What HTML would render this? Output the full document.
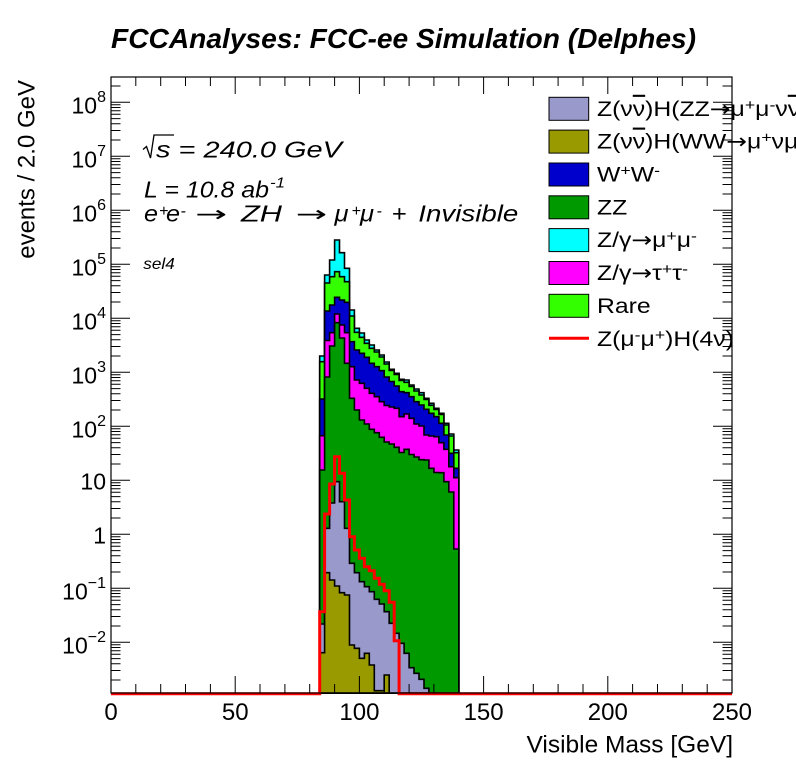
<!DOCTYPE html>
<html><head><meta charset="utf-8">
<style>
html,body{margin:0;padding:0;background:#fff;}
svg{display:block;}
text{font-family:"Liberation Sans","DejaVu Sans",sans-serif;fill:#000;}
.ar{font-family:"DejaVu Sans",sans-serif;font-style:normal;}
</style></head>
<body>
<svg width="796" height="772" viewBox="0 0 796 772" xmlns="http://www.w3.org/2000/svg">
<rect x="0" y="0" width="796" height="772" fill="#fff"/>

<!-- stacked histograms -->
<g stroke="#000" stroke-width="1.6" stroke-linejoin="miter">
<path fill="#00ffff" d="M319.7,693V356H324.6V275H329.6V260H334.6V240H339.5V252.7H344.5V268.3H349.5V310H354.4V328.3H359.4V333H364.4V340H369.3V345H374.3V350H379.3V355H384.2V362H389.2V369.3H394.2V373.3H399.1V379.3H404.1V380H409.1V385H414V389H419V392.7H424V398.3H428.9V403.3H433.9V408.3H438.9V413.3H443.9V423.3H448.8V434H453.8V450H458.8V693Z"/>
<path fill="#33ff00" d="M319.7,693V361.7H324.6V283H329.6V276.7H334.6V271.7H339.5V276.7H344.5V281.7H349.5V316H354.4V332.3H359.4V337.3H364.4V343.3H369.3V348.3H374.3V352H379.3V357H384.2V364H389.2V370.5H394.2V374.5H399.1V380.5H404.1V382.3H409.1V386.5H414V391H419V395H424V399.5H428.9V405.3H433.9V409.5H438.9V414.5H443.9V425H448.8V436H453.8V452.7H458.8V693Z"/>
<path fill="#0000cc" d="M319.7,693V399H324.6V311H329.6V305H334.6V297.3H339.5V300H344.5V302.3H349.5V341.7H354.4V350H359.4V353.3H364.4V357.3H369.3V363.3H374.3V366.7H379.3V370.7H384.2V377H389.2V381.5H394.2V386H399.1V391.7H404.1V392.7H409.1V396.7H414V401.7H419V405H424V409.3H428.9V413.3H433.9V416.7H438.9V423.3H443.9V435H448.8V453.3H453.8V468.3H458.8V693Z"/>
<path fill="#ff00ff" d="M319.7,693V435.7H324.6V340.5H329.6V332.7H334.6V314H339.5V325H344.5V332.7H349.5V366.7H354.4V380H359.4V383.3H364.4V388.3H369.3V393.3H374.3V396.7H379.3V401.7H384.2V405.5H389.2V407H394.2V408.3H399.1V416.7H404.1V414H409.1V418.3H414V424H419V426H424V435H428.9V436H433.9V436.7H438.9V442.7H443.9V449.3H448.8V466.7H453.8V477.7H458.8V693Z"/>
<path fill="#009900" d="M319.7,693V470H324.6V377H329.6V346H334.6V322.7H339.5V338H344.5V363.3H349.5V398.3H354.4V410H359.4V420H364.4V424H369.3V429.3H374.3V432.7H379.3V437.3H384.2V442H389.2V444H394.2V447.3H399.1V452.5H404.1V449.3H409.1V454.5H414V457H419V459.7H424V460H428.9V468.3H433.9V472.5H438.9V472.7H443.9V481.7H448.8V492H453.8V549H458.8V693Z"/>
<path fill="#9999cc" d="M319.7,693V624H324.6V528.3H329.6V503H334.6V481.7H339.5V501.7H344.5V528.3H349.5V563.3H354.4V572.7H359.4V581.7H364.4V586.7H369.3V591.7H374.3V599.3H379.3V604H384.2V611.7H389.2V623.3H394.2V633.3H399.1V643.3H404.1V653.3H409.1V667.7H414V673.3H419V679.3H424V688.3H428.9V693Z"/>
<path fill="#999900" d="M319.7,693V652.7H324.6V572.7H329.6V580H334.6V586H339.5V592.7H344.5V595H349.5V645H354.4V648.3H359.4V658.3H364.4V653.3H369.3V665H374.3V690.7H384.2V675H389.2V693Z"/>
</g>

<!-- signal red line -->
<path fill="none" stroke="#ff0000" stroke-width="3" d="M111,693.8H319.7V611.7H324.6V514H329.6V484H334.6V456.7H339.5V473.3H344.5V500H349.5V536.7H354.4V550H359.4V558.3H364.4V566.7H369.3V570.7H374.3V578.3H379.3V584.3H384.2V590.7H389.2V602.3H394.2V640.7H399.1V693.8H732"/>

<!-- frame -->
<rect x="111" y="77" width="621" height="616" fill="none" stroke="#000" stroke-width="1.2"/>

<!-- ticks -->
<g stroke="#000" stroke-width="1" fill="none">
<path id="yt" d="M111,102.3h19M111,156.3h19M111,210.3h19M111,264.3h19M111,318.3h19M111,372.3h19M111,426.3h19M111,480.3h19M111,534.3h19M111,588.3h19M111,642.3h19
M111,86h9.5
M111,140h9.5M111,130.5h9.5M111,123.8h9.5M111,118.6h9.5M111,114.3h9.5M111,110.7h9.5M111,107.5h9.5M111,104.8h9.5
M111,194h9.5M111,184.5h9.5M111,177.8h9.5M111,172.6h9.5M111,168.3h9.5M111,164.7h9.5M111,161.5h9.5M111,158.8h9.5
M111,248h9.5M111,238.5h9.5M111,231.8h9.5M111,226.6h9.5M111,222.3h9.5M111,218.7h9.5M111,215.5h9.5M111,212.8h9.5
M111,302h9.5M111,292.5h9.5M111,285.8h9.5M111,280.6h9.5M111,276.3h9.5M111,272.7h9.5M111,269.5h9.5M111,266.8h9.5
M111,356h9.5M111,346.5h9.5M111,339.8h9.5M111,334.6h9.5M111,330.3h9.5M111,326.7h9.5M111,323.5h9.5M111,320.8h9.5
M111,410h9.5M111,400.5h9.5M111,393.8h9.5M111,388.6h9.5M111,384.3h9.5M111,380.7h9.5M111,377.5h9.5M111,374.8h9.5
M111,464h9.5M111,454.5h9.5M111,447.8h9.5M111,442.6h9.5M111,438.3h9.5M111,434.7h9.5M111,431.5h9.5M111,428.8h9.5
M111,518h9.5M111,508.5h9.5M111,501.8h9.5M111,496.6h9.5M111,492.3h9.5M111,488.7h9.5M111,485.5h9.5M111,482.8h9.5
M111,572h9.5M111,562.5h9.5M111,555.8h9.5M111,550.6h9.5M111,546.3h9.5M111,542.7h9.5M111,539.5h9.5M111,536.8h9.5
M111,626h9.5M111,616.5h9.5M111,609.8h9.5M111,604.6h9.5M111,600.3h9.5M111,596.7h9.5M111,593.5h9.5M111,590.8h9.5
M111,680h9.5M111,670.5h9.5M111,663.8h9.5M111,658.6h9.5M111,654.3h9.5M111,650.7h9.5M111,647.5h9.5M111,644.8h9.5"/>
<use href="#yt" transform="translate(843,0) scale(-1,1)"/>
<path id="xt" d="M235.2,693v-17M359.4,693v-17M483.6,693v-17M607.8,693v-17
M135.8,693v-9M160.7,693v-9M185.5,693v-9M210.4,693v-9
M260,693v-9M284.9,693v-9M309.7,693v-9M334.6,693v-9
M384.2,693v-9M409.1,693v-9M433.9,693v-9M458.8,693v-9
M508.4,693v-9M533.3,693v-9M558.1,693v-9M583,693v-9
M632.6,693v-9M657.5,693v-9M682.3,693v-9M707.2,693v-9"/>
<use href="#xt" transform="translate(0,770) scale(1,-1)"/>
</g>

<!-- title -->
<text x="111" y="48" font-size="28" font-weight="bold" font-style="italic" textLength="585" lengthAdjust="spacingAndGlyphs">FCCAnalyses: FCC-ee Simulation (Delphes)</text>

<!-- y tick labels -->
<g font-size="23" text-anchor="end">
<text x="106" y="113.3">10<tspan dy="-11.5" font-size="16">8</tspan></text>
<text x="106" y="167.3">10<tspan dy="-11.5" font-size="16">7</tspan></text>
<text x="106" y="221.3">10<tspan dy="-11.5" font-size="16">6</tspan></text>
<text x="106" y="275.3">10<tspan dy="-11.5" font-size="16">5</tspan></text>
<text x="106" y="329.3">10<tspan dy="-11.5" font-size="16">4</tspan></text>
<text x="106" y="383.3">10<tspan dy="-11.5" font-size="16">3</tspan></text>
<text x="106" y="437.3">10<tspan dy="-11.5" font-size="16">2</tspan></text>
<text x="106" y="489.3">10</text>
<text x="106" y="543.3">1</text>
<text x="106" y="599.3">10<tspan dy="-11.5" font-size="16">−1</tspan></text>
<text x="106" y="653.3">10<tspan dy="-11.5" font-size="16">−2</tspan></text>
</g>

<!-- x tick labels -->
<g font-size="24" text-anchor="middle">
<text x="111" y="720">0</text>
<text x="235.2" y="720">50</text>
<text x="359.4" y="720">100</text>
<text x="483.6" y="720">150</text>
<text x="607.8" y="720">200</text>
<text x="732" y="720">250</text>
</g>

<!-- axis titles -->
<text x="733" y="752.7" font-size="24.5" text-anchor="end">Visible Mass [GeV]</text>
<text transform="translate(34.5,80) rotate(-90)" font-size="24" text-anchor="end">events / 2.0 GeV</text>

<!-- annotations -->
<path d="M143,149.5L146.5,146.5L150.5,158L154,135H174" fill="none" stroke="#000" stroke-width="1.3"/>
<g font-style="italic" font-size="23">
<text x="156" y="157.3" textLength="186" lengthAdjust="spacingAndGlyphs">s = 240.0 GeV</text>
<text x="144" y="197.7" textLength="125" lengthAdjust="spacingAndGlyphs">L = 10.8 ab</text>
<text x="270" y="187.5" font-size="15" textLength="15" lengthAdjust="spacingAndGlyphs">-1</text>

<text x="144" y="221.7" textLength="14" lengthAdjust="spacingAndGlyphs">e</text>
<text x="159" y="216" font-size="16">+</text>
<text x="166" y="221.7" textLength="14" lengthAdjust="spacingAndGlyphs">e</text>
<text x="180.5" y="216" font-size="16">-</text>
<text class="ar" x="195" y="221.7" font-size="22" textLength="32" lengthAdjust="spacingAndGlyphs">→</text>
<text x="241" y="221.7" textLength="41" lengthAdjust="spacingAndGlyphs">ZH</text>
<text class="ar" x="295.5" y="221.7" font-size="22" textLength="31.5" lengthAdjust="spacingAndGlyphs">→</text>
<text x="334.5" y="221.7" textLength="14" lengthAdjust="spacingAndGlyphs">μ</text>
<text x="351.5" y="216" font-size="16">+</text>
<text x="360" y="221.7" textLength="14" lengthAdjust="spacingAndGlyphs">μ</text>
<text x="376.5" y="216" font-size="16">-</text>
<text x="391.5" y="221.7" textLength="15" lengthAdjust="spacingAndGlyphs">+</text>
<text x="418.3" y="221.7" textLength="100" lengthAdjust="spacingAndGlyphs">Invisible</text>

<text x="143.3" y="269" font-size="16" textLength="31.5" lengthAdjust="spacingAndGlyphs">sel4</text>
</g>

<!-- legend -->
<g stroke="#000" stroke-width="1">
<rect x="549" y="97.3" width="39.7" height="23" fill="#9999cc"/>
<rect x="549" y="130.1" width="39.7" height="23" fill="#999900"/>
<rect x="549" y="163" width="39.7" height="23" fill="#0000cc"/>
<rect x="549" y="195.8" width="39.7" height="23" fill="#009900"/>
<rect x="549" y="228.6" width="39.7" height="23" fill="#00ffff"/>
<rect x="549" y="261.5" width="39.7" height="23" fill="#ff00ff"/>
<rect x="549" y="294.3" width="39.7" height="23" fill="#33ff00"/>
</g>
<path d="M549,338.2H589" stroke="#ff0000" stroke-width="3"/>

<g font-size="21">
<g transform="translate(597,115.8) scale(1.18,1)"><text x="0" y="0">Z(ν<tspan text-decoration="overline">ν</tspan>)H(ZZ<tspan class="ar">→</tspan>μ<tspan dy="-6" font-size="15">+</tspan><tspan dy="6">μ</tspan><tspan dy="-6" font-size="15">-</tspan><tspan dy="6">ν</tspan><tspan text-decoration="overline">ν</tspan>)</text></g>
<g transform="translate(597,148.6) scale(1.18,1)"><text x="0" y="0">Z(ν<tspan text-decoration="overline">ν</tspan>)H(WW<tspan class="ar">→</tspan>μ<tspan dy="-6" font-size="15">+</tspan><tspan dy="6">νμ</tspan><tspan dy="-6" font-size="15">-</tspan><tspan dy="6" text-decoration="overline">ν</tspan>)</text></g>
<g transform="translate(597,181.5) scale(1.18,1)"><text x="0" y="0">W<tspan dy="-6" font-size="15">+</tspan><tspan dy="6">W</tspan><tspan dy="-6" font-size="15">-</tspan></text></g>
<g transform="translate(597,214.3) scale(1.18,1)"><text x="0" y="0">ZZ</text></g>
<g transform="translate(597,247.1) scale(1.18,1)"><text x="0" y="0">Z/γ<tspan class="ar">→</tspan>μ<tspan dy="-6" font-size="15">+</tspan><tspan dy="6">μ</tspan><tspan dy="-6" font-size="15">-</tspan></text></g>
<g transform="translate(597,280) scale(1.18,1)"><text x="0" y="0">Z/γ<tspan class="ar">→</tspan>τ<tspan dy="-6" font-size="15">+</tspan><tspan dy="6">τ</tspan><tspan dy="-6" font-size="15">-</tspan></text></g>
<g transform="translate(597,312.8) scale(1.18,1)"><text x="0" y="0">Rare</text></g>
<g transform="translate(597,346.2) scale(1.18,1)"><text x="0" y="0">Z(μ<tspan dy="-6" font-size="15">-</tspan><tspan dy="6">μ</tspan><tspan dy="-6" font-size="15">+</tspan><tspan dy="6">)H(4ν)</tspan></text></g>
</g>
</svg>
</body></html>
